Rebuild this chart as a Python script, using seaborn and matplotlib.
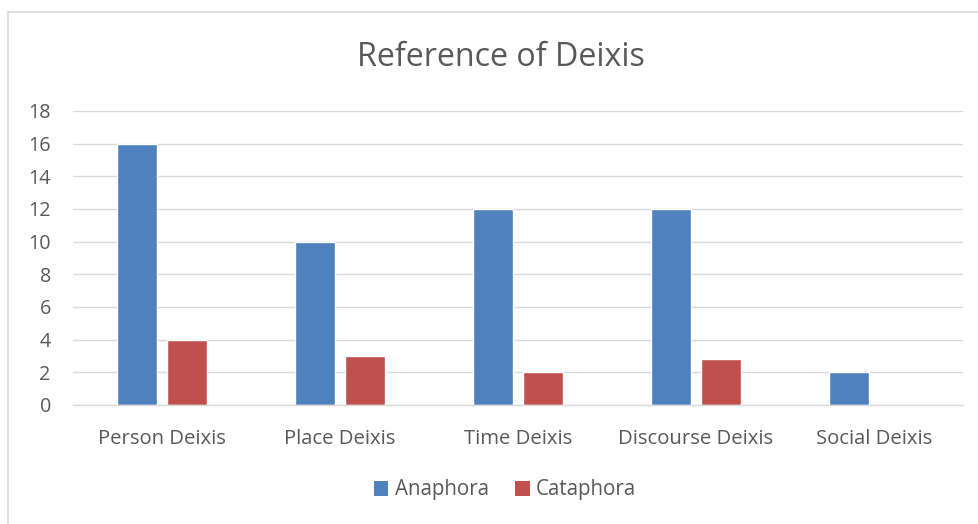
import matplotlib
matplotlib.use("Agg")
import matplotlib.pyplot as plt
import seaborn as sns
import pandas as pd
from matplotlib.lines import Line2D
from matplotlib.patches import Patch

categories = ["Person Deixis", "Place Deixis", "Time Deixis", "Discourse Deixis", "Social Deixis"]
anaphora = [16, 10, 12, 12, 2]
cataphora = [4, 3, 2, 2.8, 0]
series = ["Anaphora", "Cataphora"]
colors = ["#4F81BD", "#C0504D"]
yticks = list(range(0, 19, 2))

df = pd.DataFrame({
    "Category": categories * 2,
    "Series": [series[0]] * len(categories) + [series[1]] * len(categories),
    "Value": anaphora + cataphora,
})

sns.set_theme(style="white")
plt.rcParams["font.family"] = ["Open Sans", "DejaVu Sans"]
text_color = "#595959"

fig = plt.figure(figsize=(9.79, 5.24), dpi=100)
ax = fig.add_axes([73/979, 1 - 405/524, (963-73)/979, (405-111)/524])

sns.barplot(data=df, x="Category", y="Value", hue="Series", order=categories,
            hue_order=series, palette=colors, width=0.562, gap=0.2,
            saturation=1, ax=ax, legend=False, errorbar=None)

ax.set_ylim(0, 18)
ax.set_xlim(-0.5, len(categories) - 0.5)
ax.set_yticks(yticks)
ax.set_yticklabels([str(t) for t in yticks])
ax.yaxis.grid(True, color="#D9D9D9", linewidth=1)
ax.set_axisbelow(True)
for s in ["top", "right", "left"]:
    ax.spines[s].set_visible(False)
ax.spines["bottom"].set_color("#D9D9D9")
ax.spines["bottom"].set_linewidth(1)
ax.tick_params(axis="both", length=0, colors=text_color)
ax.tick_params(axis="x", pad=17, labelsize=14.6)
ax.tick_params(axis="y", pad=16, labelsize=14.2)
ax.set_xlabel("")
ax.set_ylabel("")

fig.text(501/979, 1 - 58/524, "Reference of Deixis", ha="center", va="center",
         fontsize=23.2, color=text_color)

handles = [Patch(facecolor=c, edgecolor="none") for c in colors]
fig.legend(handles, series, loc="center", bbox_to_anchor=(505/979, 1 - 490/524),
           ncol=2, frameon=False, fontsize=14.8, labelcolor=text_color,
           handlelength=0.7, handleheight=0.7, handletextpad=0.3, columnspacing=1.3)

fig.add_artist(Line2D([8/979, 1], [1 - 12/524, 1 - 12/524], transform=fig.transFigure,
                      color="#D9D9D9", linewidth=1.2))
fig.add_artist(Line2D([8/979, 8/979], [0, 1 - 12/524], transform=fig.transFigure,
                      color="#D9D9D9", linewidth=1.2))

fig.savefig("out.png", dpi=100)
